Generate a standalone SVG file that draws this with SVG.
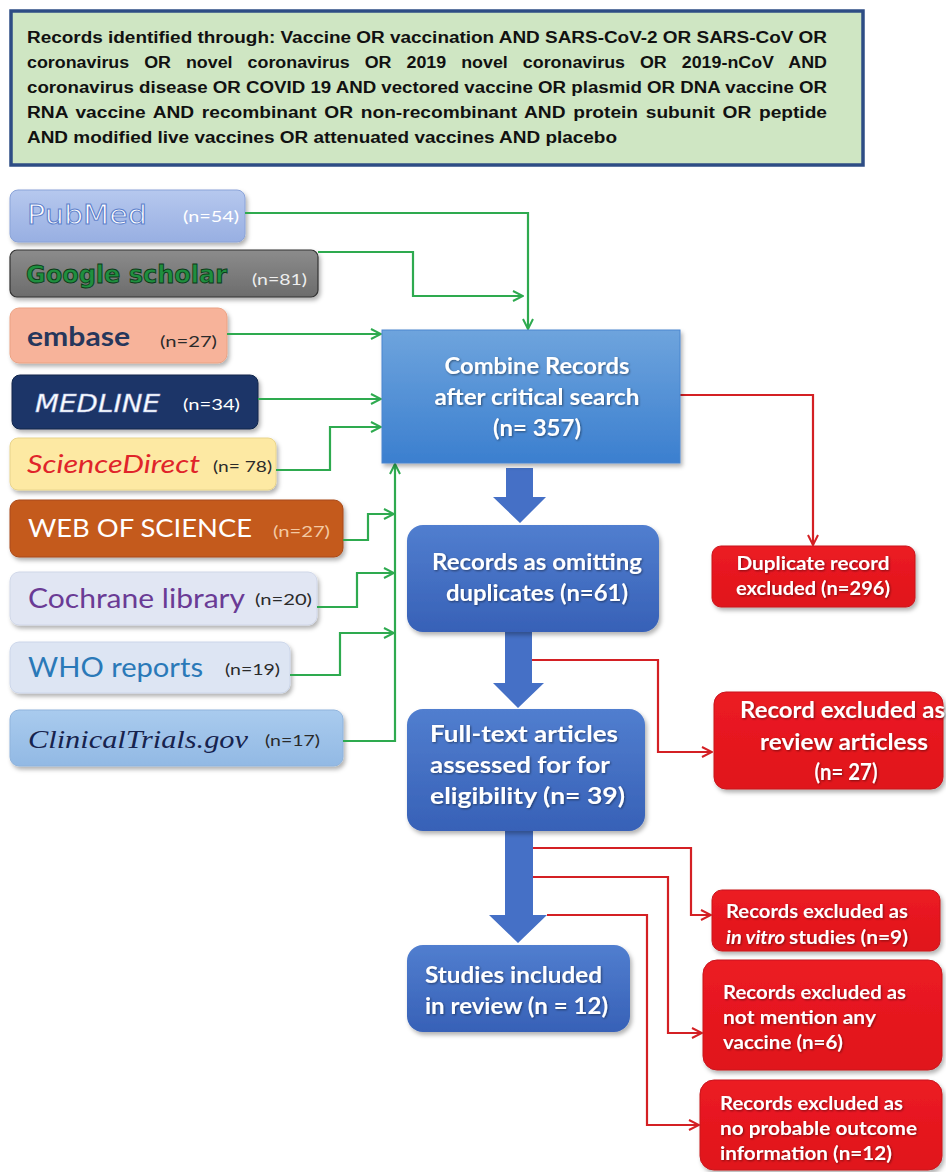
<svg xmlns="http://www.w3.org/2000/svg" width="946" height="1172" viewBox="0 0 946 1172">
<style>
.top{font-family:"Liberation Sans",Arial,sans-serif;font-weight:bold;font-size:16px;fill:#111}
.cb{font-family:Lato,"Liberation Sans",sans-serif;font-weight:bold;fill:#fff}
.n{font-family:Lato,"Liberation Sans",sans-serif;font-size:16px}
.g{fill:none;stroke:#2eaa4f;stroke-width:2.2}
.r{fill:none;stroke:#d42024;stroke-width:2.2}
.blk{fill:#4570c6}
.rb{fill:url(#red);stroke:#c8141c;stroke-width:1}
.bb{fill:url(#blue);filter:url(#sh)}
</style>
<defs>
<filter id="sh" x="-10%" y="-10%" width="125%" height="135%"><feDropShadow dx="2" dy="3" stdDeviation="2" flood-color="#000" flood-opacity="0.3"/></filter>
<filter id="ts" x="-5%" y="-20%" width="110%" height="150%"><feDropShadow dx="1" dy="1" stdDeviation="0.8" flood-color="#000" flood-opacity="0.45"/></filter>
<linearGradient id="blue" x1="0" y1="0" x2="0" y2="1"><stop offset="0" stop-color="#517ecf"/><stop offset="1" stop-color="#3761b7"/></linearGradient>
<linearGradient id="comb" x1="0" y1="0" x2="0" y2="1"><stop offset="0" stop-color="#6ea4dd"/><stop offset="1" stop-color="#3b7fcf"/></linearGradient>
<linearGradient id="red" x1="0" y1="0" x2="0" y2="1"><stop offset="0" stop-color="#ec1c24"/><stop offset="1" stop-color="#e0121a"/></linearGradient>
<linearGradient id="pub" x1="0" y1="0" x2="0" y2="1"><stop offset="0" stop-color="#b6c8ee"/><stop offset="1" stop-color="#98afe2"/></linearGradient>
<linearGradient id="goo" x1="0" y1="0" x2="0" y2="1"><stop offset="0" stop-color="#8c8c8c"/><stop offset="1" stop-color="#6c6c6c"/></linearGradient>
<linearGradient id="clin" x1="0" y1="0" x2="0" y2="1"><stop offset="0" stop-color="#a9cbee"/><stop offset="1" stop-color="#92b9e4"/></linearGradient>
<marker id="ag" viewBox="0 0 12 12" refX="11" refY="6" markerWidth="12" markerHeight="12" markerUnits="userSpaceOnUse" orient="auto"><path d="M1,1 L11,6 L1,11" fill="none" stroke="#2eaa4f" stroke-width="2"/></marker>
<marker id="ar" viewBox="0 0 12 12" refX="11" refY="6" markerWidth="12" markerHeight="12" markerUnits="userSpaceOnUse" orient="auto"><path d="M1,1 L11,6 L1,11" fill="none" stroke="#d42024" stroke-width="2"/></marker>
</defs>
<rect width="946" height="1172" fill="#fff"/>

<g id="search">
<rect x="11" y="11" width="852" height="154" fill="#cfe6c3" stroke="#2e4d85" stroke-width="3.5"/>
<text class="top" x="27" y="43" textLength="800" lengthAdjust="spacingAndGlyphs">Records identified through: Vaccine OR vaccination AND SARS-CoV-2 OR SARS-CoV OR</text>
<text class="top" x="27" y="68" textLength="800" lengthAdjust="spacingAndGlyphs" word-spacing="9">coronavirus OR novel coronavirus OR 2019 novel coronavirus OR 2019-nCoV AND</text>
<text class="top" x="27" y="93" textLength="800" lengthAdjust="spacingAndGlyphs">coronavirus disease OR COVID 19 AND vectored vaccine OR plasmid OR DNA vaccine OR</text>
<text class="top" x="27" y="118" textLength="800" lengthAdjust="spacingAndGlyphs" word-spacing="2">RNA vaccine AND recombinant OR non-recombinant AND protein subunit OR peptide</text>
<text class="top" x="27" y="143" textLength="590" lengthAdjust="spacingAndGlyphs">AND modified live vaccines OR attenuated vaccines AND placebo</text>
</g>

<g id="pubmed">
<rect x="10" y="190" width="235" height="52" rx="8" fill="url(#pub)" stroke="#8aa3d8" filter="url(#sh)"/>
<text x="27" y="224" font-family="'DejaVu Sans',Verdana,sans-serif" font-size="26" fill="#fff" stroke="#5f82cc" stroke-width="1" textLength="120" lengthAdjust="spacingAndGlyphs">PubMed</text>
<text class="n" x="183" y="222" fill="#fff" textLength="56" lengthAdjust="spacingAndGlyphs">(n=54)</text>
</g>
<g id="google">
<rect x="10" y="250" width="308" height="47" rx="7" fill="url(#goo)" stroke="#333" stroke-width="1.2" filter="url(#sh)"/>
<text x="26" y="283" font-family="'DejaVu Sans',Verdana,sans-serif" font-weight="bold" font-size="25" fill="#1f8f3f" stroke="#0c3a18" stroke-width="0.9" textLength="201" lengthAdjust="spacingAndGlyphs">Google scholar</text>
<text class="n" x="252" y="285" fill="#eee" textLength="55" lengthAdjust="spacingAndGlyphs">(n=81)</text>
</g>
<g id="embase">
<rect x="10" y="308" width="217" height="55" rx="9" fill="#f7b39a" stroke="#eba283" filter="url(#sh)"/>
<text x="27" y="346" font-family="Lato,'Liberation Sans',sans-serif" font-weight="bold" font-size="27" fill="#26375c" textLength="103" lengthAdjust="spacingAndGlyphs">embase</text>
<text class="n" x="160" y="347" fill="#2a2a2a" textLength="57" lengthAdjust="spacingAndGlyphs">(n=27)</text>
</g>
<g id="medline">
<rect x="12" y="375" width="246" height="54" rx="8" fill="#1b3567" stroke="#12264c" filter="url(#sh)"/>
<text x="35" y="412" font-family="'DejaVu Sans',Verdana,sans-serif" font-style="italic" font-size="25" fill="#fff" stroke="#a8b8e0" stroke-width="0.5" textLength="125" lengthAdjust="spacingAndGlyphs">MEDLINE</text>
<text class="n" x="183" y="410" fill="#fff" textLength="57" lengthAdjust="spacingAndGlyphs">(n=34)</text>
</g>
<g id="sciencedirect">
<rect x="10" y="438" width="266" height="52" rx="8" fill="#fde9a3" stroke="#e8d48c" filter="url(#sh)"/>
<text x="27" y="473" font-family="Lato,'Liberation Sans',sans-serif" font-style="italic" font-size="26" fill="#e0242a" textLength="173" lengthAdjust="spacingAndGlyphs">ScienceDirect</text>
<text class="n" x="213" y="472" fill="#2a2a2a" textLength="59" lengthAdjust="spacingAndGlyphs">(n= 78)</text>
</g>
<g id="wos">
<rect x="10" y="500" width="333" height="57" rx="9" fill="#c45a1f" stroke="#a84816" filter="url(#sh)"/>
<text x="28" y="537" font-family="Lato,'Liberation Sans',sans-serif" font-size="25" fill="#fff" textLength="224" lengthAdjust="spacingAndGlyphs">WEB OF SCIENCE</text>
<text class="n" x="273" y="537" fill="#f3c9a2" textLength="57" lengthAdjust="spacingAndGlyphs">(n=27)</text>
</g>
<g id="cochrane">
<rect x="10" y="572" width="307" height="53" rx="9" fill="#e1e6f3" stroke="#d0d7e8" filter="url(#sh)"/>
<text x="28" y="608" font-family="Lato,'Liberation Sans',sans-serif" font-size="26" fill="#6a3b95" textLength="217" lengthAdjust="spacingAndGlyphs">Cochrane library</text>
<text class="n" x="255" y="605" fill="#2a2a2a" textLength="57" lengthAdjust="spacingAndGlyphs">(n=20)</text>
</g>
<g id="who">
<rect x="10" y="642" width="280" height="51" rx="9" fill="#dde5f3" stroke="#ccd6ea" filter="url(#sh)"/>
<text x="28" y="677" font-family="Lato,'Liberation Sans',sans-serif" font-size="26" fill="#2a79b8" textLength="175" lengthAdjust="spacingAndGlyphs">WHO reports</text>
<text class="n" x="225" y="675" fill="#2a2a2a" textLength="55" lengthAdjust="spacingAndGlyphs">(n=19)</text>
</g>
<g id="clinicaltrials">
<rect x="10" y="710" width="333" height="56" rx="9" fill="url(#clin)" stroke="#8fb3dc" filter="url(#sh)"/>
<text x="28" y="748" font-family="'Liberation Serif','Times New Roman',serif" font-style="italic" font-size="26" fill="#17234e" textLength="220" lengthAdjust="spacingAndGlyphs">ClinicalTrials.gov</text>
<text class="n" x="265" y="746" fill="#2a2a2a" textLength="55" lengthAdjust="spacingAndGlyphs">(n=17)</text>
</g>

<g id="connectors">
<path class="g" d="M245,213 H528 V329" marker-end="url(#ag)"/>
<path class="g" d="M318,252 H413 V296 H523" marker-end="url(#ag)"/>
<path class="g" d="M227,334 H381" marker-end="url(#ag)"/>
<path class="g" d="M258,399 H381" marker-end="url(#ag)"/>
<path class="g" d="M276,470 H330 V427 H381" marker-end="url(#ag)"/>
<path class="g" d="M343,540 H368 V514 H394" marker-end="url(#ag)"/>
<path class="g" d="M317,607 H357 V573 H394" marker-end="url(#ag)"/>
<path class="g" d="M290,675 H340 V633 H394" marker-end="url(#ag)"/>
<path class="g" d="M343,741 H395 V464" marker-end="url(#ag)"/>
<path class="r" d="M680,395 H813 V545" marker-end="url(#ar)"/>
<path class="r" d="M532,660 H658 V752 H712" marker-end="url(#ar)"/>
<path class="r" d="M533,848 H691 V915 H711" marker-end="url(#ar)"/>
<path class="r" d="M533,877 H668 V1033 H702" marker-end="url(#ar)"/>
<path class="r" d="M547,915 H647 V1125 H699" marker-end="url(#ar)"/>
<polygon class="blk" points="506,468 533,468 533,497 546,497 520,523 493,497 506,497"/>
<polygon class="blk" points="505,632 532,632 532,683 544,683 518,708 493,683 505,683"/>
<polygon class="blk" points="505,831 533,831 533,915 547,915 518,943 489,915 505,915"/>
</g>

<g id="combine">
<rect x="382" y="330" width="298" height="133" fill="url(#comb)" stroke="#4a86cf" stroke-width="1" filter="url(#sh)"/>
<g class="cb" font-size="23" text-anchor="middle" filter="url(#ts)">
<text x="537" y="374" textLength="185" lengthAdjust="spacingAndGlyphs">Combine Records</text>
<text x="537" y="405" textLength="205" lengthAdjust="spacingAndGlyphs">after critical search</text>
<text x="537" y="436" textLength="88" lengthAdjust="spacingAndGlyphs">(n= 357)</text>
</g>
</g>
<g id="omitting">
<rect class="bb" x="407" y="525" width="252" height="107" rx="16"/>
<g class="cb" font-size="23" text-anchor="middle" filter="url(#ts)">
<text x="537" y="570" textLength="210" lengthAdjust="spacingAndGlyphs">Records as omitting</text>
<text x="537" y="601" textLength="182" lengthAdjust="spacingAndGlyphs">duplicates (n=61)</text>
</g>
</g>
<g id="fulltext">
<rect class="bb" x="407" y="709" width="238" height="122" rx="16"/>
<g class="cb" font-size="23" filter="url(#ts)">
<text x="430" y="742" textLength="188" lengthAdjust="spacingAndGlyphs">Full-text articles</text>
<text x="430" y="773" textLength="180" lengthAdjust="spacingAndGlyphs">assessed for for</text>
<text x="430" y="804" textLength="195" lengthAdjust="spacingAndGlyphs">eligibility (n= 39)</text>
</g>
</g>
<g id="studies">
<rect class="bb" x="407" y="945" width="223" height="87" rx="16"/>
<g class="cb" font-size="23" filter="url(#ts)">
<text x="425" y="983" textLength="177" lengthAdjust="spacingAndGlyphs">Studies included</text>
<text x="425" y="1014" textLength="183" lengthAdjust="spacingAndGlyphs">in review (n = 12)</text>
</g>
</g>

<g id="duplicate">
<rect class="rb" x="712" y="546" width="203" height="61" rx="9" filter="url(#sh)"/>
<g class="cb" font-size="19" text-anchor="middle" filter="url(#ts)">
<text x="813" y="570" textLength="153" lengthAdjust="spacingAndGlyphs">Duplicate record</text>
<text x="813" y="595" textLength="154" lengthAdjust="spacingAndGlyphs">excluded (n=296)</text>
</g>
</g>
<g id="review">
<rect class="rb" x="714" y="692" width="229" height="97" rx="12" filter="url(#sh)"/>
<g class="cb" font-size="22" filter="url(#ts)">
<text x="740" y="718" textLength="205" lengthAdjust="spacingAndGlyphs">Record excluded as</text>
<text x="844" y="750" text-anchor="middle" textLength="168" lengthAdjust="spacingAndGlyphs">review articless</text>
<text x="846" y="780" text-anchor="middle" textLength="63" lengthAdjust="spacingAndGlyphs">(n= 27)</text>
</g>
</g>
<g id="invitro">
<rect class="rb" x="712" y="890" width="228" height="61" rx="10" filter="url(#sh)"/>
<g class="cb" font-size="18" filter="url(#ts)">
<text x="726" y="918" textLength="182" lengthAdjust="spacingAndGlyphs">Records excluded as</text>
<text x="726" y="944" font-style="italic" textLength="59" lengthAdjust="spacingAndGlyphs">in vitro</text>
<text x="789" y="944" textLength="119" lengthAdjust="spacingAndGlyphs">studies (n=9)</text>
</g>
</g>
<g id="novaccine">
<rect class="rb" x="703" y="960" width="239" height="110" rx="14" filter="url(#sh)"/>
<g class="cb" font-size="18" filter="url(#ts)">
<text x="723" y="999" textLength="183" lengthAdjust="spacingAndGlyphs">Records excluded as</text>
<text x="723" y="1024" textLength="153" lengthAdjust="spacingAndGlyphs">not mention any</text>
<text x="723" y="1049" textLength="120" lengthAdjust="spacingAndGlyphs">vaccine (n=6)</text>
</g>
</g>
<g id="nooutcome">
<rect class="rb" x="700" y="1080" width="242" height="90" rx="14" filter="url(#sh)"/>
<g class="cb" font-size="18" filter="url(#ts)">
<text x="720" y="1110" textLength="183" lengthAdjust="spacingAndGlyphs">Records excluded as</text>
<text x="720" y="1135" textLength="197" lengthAdjust="spacingAndGlyphs">no probable outcome</text>
<text x="720" y="1160" textLength="172" lengthAdjust="spacingAndGlyphs">information (n=12)</text>
</g>
</g>
</svg>
